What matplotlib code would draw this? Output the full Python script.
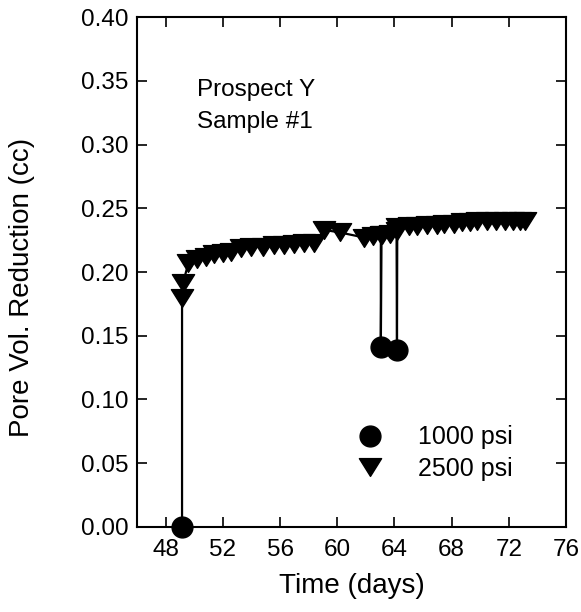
import numpy as np
import matplotlib.pyplot as plt
from matplotlib.path import Path
from matplotlib.lines import Line2D

plt.rcParams['font.family'] = ['Liberation Sans', 'DejaVu Sans']

# measurements in time order (days, cc, confining pressure psi)
time_days = [49.15, 49.15, 49.2, 49.6, 50.2, 50.8, 51.4, 52.0, 52.6, 53.3, 54.0,
             54.8, 55.6, 56.3, 57.0, 57.7, 58.4, 59.1, 60.2, 61.9, 62.5, 63.05,
             63.05, 63.1, 63.7, 64.15, 64.18, 64.2, 65.0, 65.6, 66.3, 67.0, 67.5,
             68.2, 68.7, 69.3, 69.8, 70.5, 71.1, 71.7, 72.3, 72.8, 73.1]
pore_red = [0.000, 0.180, 0.191, 0.207, 0.210, 0.212, 0.214, 0.215, 0.216, 0.219, 0.220,
            0.220, 0.221, 0.221, 0.222, 0.223, 0.223, 0.233, 0.231, 0.227, 0.228, 0.229,
            0.141, 0.229, 0.230, 0.232, 0.139, 0.235, 0.236, 0.236, 0.237, 0.237, 0.238,
            0.238, 0.239, 0.239, 0.240, 0.240, 0.240, 0.240, 0.240, 0.240, 0.240]
pressure = [1000, 2500, 2500, 2500, 2500, 2500, 2500, 2500, 2500, 2500, 2500,
            2500, 2500, 2500, 2500, 2500, 2500, 2500, 2500, 2500, 2500, 2500,
            1000, 2500, 2500, 2500, 1000, 2500, 2500, 2500, 2500, 2500, 2500,
            2500, 2500, 2500, 2500, 2500, 2500, 2500, 2500, 2500, 2500]
labels = ['1000 psi', '2500 psi']

t = np.array(time_days)
v = np.array(pore_red)
p = np.array(pressure)

# wide flat down-triangle like the original plot symbol
tri = Path([(-1, 0.8), (1, 0.8), (0, -0.8), (-1, 0.8)],
           [Path.MOVETO, Path.LINETO, Path.LINETO, Path.CLOSEPOLY])

fig = plt.figure(figsize=(5.81, 6.12), dpi=100)
ax = fig.add_axes([0.2358, 0.1389, 0.7384, 0.8333])

ax.plot(t, v, color='black', lw=1.6, zorder=2)
lo = p == 1000
hi = p == 2500
ax.plot(t[lo], v[lo], ls='none', marker='o', ms=15, color='black', zorder=3, clip_on=False)
ax.plot(t[hi], v[hi], ls='none', marker=tri, ms=16, color='black', zorder=3, clip_on=False)

ax.set_xlim(46, 76)
ax.set_ylim(0, 0.40)
ax.set_xticks(np.arange(48, 77, 4))
ax.set_yticks(np.arange(0, 0.401, 0.05))
ax.yaxis.set_major_formatter(plt.FormatStrFormatter('%.2f'))
ax.tick_params(direction='in', top=True, right=True, length=7, width=1.2,
               labelsize=17.5)
ax.tick_params(axis='y', pad=6)
ax.tick_params(axis='x', pad=9)
for s in ax.spines.values():
    s.set_linewidth(1.5)

ax.set_xlabel('Time (days)', fontsize=20, labelpad=8)
ax.set_ylabel('Pore Vol. Reduction (cc)', fontsize=20)
ax.yaxis.set_label_coords(-0.238, 0.47)

ax.text(50.2, 0.343, 'Prospect Y', fontsize=17.5, va='center')
ax.text(50.2, 0.318, 'Sample #1', fontsize=17.5, va='center')

handles = [Line2D([], [], ls='none', marker='o', ms=15, color='black'),
           Line2D([], [], ls='none', marker=tri, ms=16, color='black')]
ax.legend(handles, labels, loc='center left', bbox_to_anchor=(0.52, 0.145),
          frameon=False, fontsize=18, handlelength=0.8, handletextpad=1.5,
          labelspacing=0.3, borderpad=0, borderaxespad=0, numpoints=1)

fig.savefig('out.png', dpi=100)
